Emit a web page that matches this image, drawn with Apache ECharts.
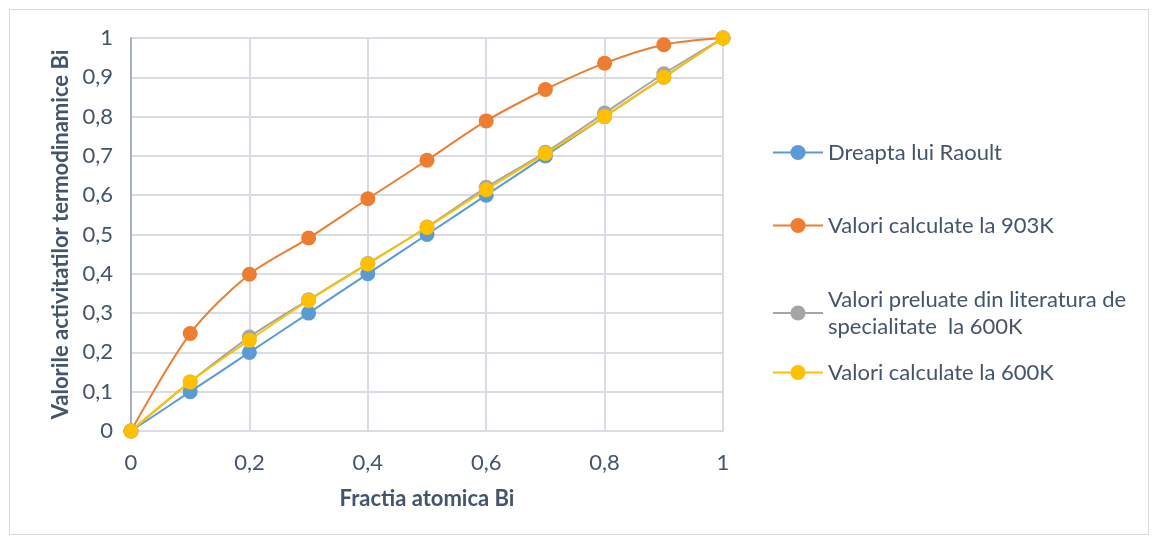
<!DOCTYPE html>
<html>
<head>
<meta charset="utf-8">
<script src="https://cdn.jsdelivr.net/npm/echarts@6/dist/echarts.min.js"></script>
<style>
  html, body { margin: 0; padding: 0; background: #fff; }
  #frame { position: absolute; left: 9px; top: 9px; width: 1140px; height: 526px; border: 1px solid #d9d9d9; box-sizing: border-box; }
  #chart { position: absolute; left: 0; top: 0; width: 1157px; height: 542px; }
</style>
</head>
<body>
<div id="frame"></div>
<div id="chart"></div>
<script>
// Atomic fraction of Bi (x) and activity values (y) for each data set
const fractions = [0, 0.1, 0.2, 0.3, 0.4, 0.5, 0.6, 0.7, 0.8, 0.9, 1];
const raoult    = [0, 0.1, 0.2, 0.3, 0.4, 0.5, 0.6, 0.7, 0.8, 0.9, 1];
const calc903   = [0, 0.248, 0.399, 0.491, 0.591, 0.689, 0.789, 0.869, 0.936, 0.983, 1];
const lit600    = [0, 0.125, 0.239, 0.334, 0.426, 0.519, 0.62, 0.709, 0.809, 0.909, 1];
const calc600   = [0, 0.125, 0.231, 0.332, 0.425, 0.518, 0.614, 0.706, 0.8, 0.9, 1];

const seriesNames = [
  'Dreapta lui Raoult',
  'Valori calculate la 903K',
  'Valori preluate din literatura de\nspecialitate  la 600K',
  'Valori calculate la 600K'
];
const seriesValues = [raoult, calc903, lit600, calc600];
const colors = ['#5b9bd5', '#ed7d31', '#a5a5a5', '#ffc000'];

const textColor = '#44546a';
const font = 'Lato, "Open Sans", sans-serif';
const comma = v => String(v).replace('.', ',');

const chart = echarts.init(document.getElementById('chart'));

const series = seriesValues.map((vals, i) => ({
  name: seriesNames[i],
  type: 'line',
  smooth: 0.3,
  data: fractions.map((x, k) => [x, vals[k]]),
  symbol: 'circle',
  symbolSize: 15,
  showAllSymbol: true,
  lineStyle: { color: colors[i], width: 2 },
  itemStyle: { color: colors[i] },
  emphasis: { disabled: true },
  z: 2 + i
}));

// One legend block per entry so each row sits at its own height
const legendTops = [134, 207, 281, 354];
const legends = seriesNames.map((n, i) => ({
  data: [n],
  left: 767,
  top: legendTops[i],
  orient: 'vertical',
  itemWidth: 50,
  itemHeight: 19,
  itemGap: 0,
  selectedMode: false,
  textStyle: { color: textColor, fontSize: 22, fontFamily: font, lineHeight: 27, padding: [0, 0, 0, 0] }
}));

chart.setOption({
  animation: false,
  color: colors,
  legend: legends,
  grid: { left: 131, right: 434, top: 38, bottom: 111, containLabel: false },
  xAxis: {
    type: 'value',
    min: 0, max: 1, interval: 0.2,
    name: 'Fractia atomica Bi',
    nameLocation: 'middle',
    nameGap: 57,
    nameTextStyle: { color: textColor, fontSize: 22, fontWeight: 'bold', fontFamily: font },
    axisLine: { show: true, lineStyle: { color: '#d9dde3', width: 2 } },
    axisTick: { show: false },
    axisLabel: { color: textColor, fontSize: 22, fontFamily: font, margin: 21, formatter: comma },
    splitLine: { show: true, lineStyle: { color: '#d9dde3', width: 2 } }
  },
  yAxis: {
    type: 'value',
    min: 0, max: 1, interval: 0.1,
    name: 'Valorile activitatilor termodinamice Bi',
    nameLocation: 'middle',
    nameGap: 59,
    nameTextStyle: { color: textColor, fontSize: 22, fontWeight: 'bold', fontFamily: font },
    axisLine: { show: true, lineStyle: { color: '#a6b0c0', width: 2 } },
    axisTick: { show: false },
    axisLabel: { color: textColor, fontSize: 22, fontFamily: font, margin: 18, formatter: comma },
    splitLine: { show: true, lineStyle: { color: '#d9dde3', width: 2 } }
  },
  series: series
});
</script>
</body>
</html>
